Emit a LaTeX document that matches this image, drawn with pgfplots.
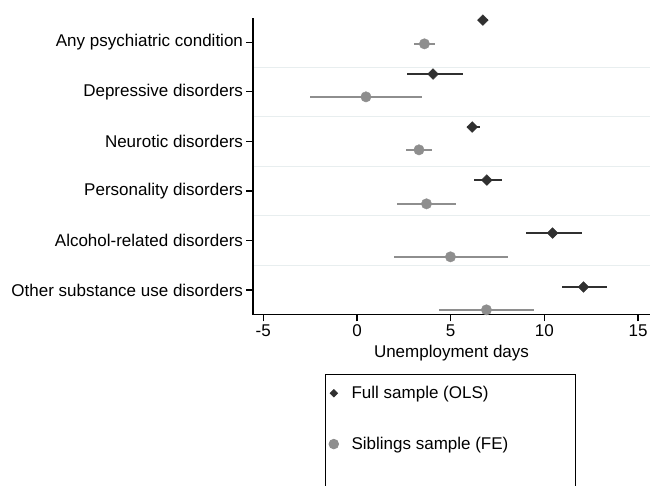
\documentclass[border=0pt]{standalone}
\usepackage{pgfplots}
\usepackage{pgfplotstable}
\pgfplotsset{compat=1.18}
\usepackage{fontspec}
\setmainfont{Liberation Sans}

\definecolor{olscol}{RGB}{48,48,48}
\definecolor{fecol}{RGB}{142,142,142}
\definecolor{sepcol}{RGB}{232,238,239}

% y: category position (Any psychiatric = 6 ... Other substance = 1)
\pgfplotstableread{
y     x      lo     hi
6.45  6.72   6.45   7.00
5.36  4.06   2.67   5.65
4.29  6.15   5.88   6.54
3.22  6.93   6.24   7.75
2.15  10.44  9.00   12.00
1.06  12.09  10.93  13.37
}\olsdata

\pgfplotstableread{
y     x      lo     hi
5.97  3.60   3.03   4.19
4.90  0.48   -2.53  3.49
3.83  3.31   2.62   4.01
2.74  3.71   2.14   5.26
1.67  4.99   1.99   8.04
0.60  6.91   4.40   9.44
}\fedata

\begin{document}
\begin{tikzpicture}[x=1pt,y=1pt]
\path[use as bounding box, clip] (0,0) rectangle (651,486);
\begin{axis}[
    at={(253pt,171.2pt)}, anchor=south west,
    scale only axis,
    width=397pt, height=297.2pt,
    xmin=-5.55, xmax=15.64,
    ymin=0.5, ymax=6.5,
    axis x line*=bottom, axis y line*=left,
    axis line style={line width=1.2pt, -},
    xtick={-5,0,5,10,15},
    ytick={1,2,3,4,5,6},
    yticklabels={Other substance use disorders, Alcohol-related disorders, Personality disorders, Neurotic disorders, Depressive disorders, Any psychiatric condition},
    minor ytick={1.5,2.5,3.5,4.5,5.5},
    yminorgrids,
    minor grid style={sepcol, line width=1.2pt},
    minor tick length=0pt,
    tick align=outside,
    major tick length=6.5pt,
    tick style={black, line width=1.2pt},
    /pgf/number format/assume math mode=true,
    tick label style={font=\fontsize{17}{20}\selectfont},
    label style={font=\fontsize{17}{20}\selectfont},
    xlabel={Unemployment days},
    xlabel style={yshift=-1.5pt},
    legend style={at={(0.181,-0.199)}, anchor=north west,
        draw=black, line width=0.8pt,
        inner xsep=0pt, inner ysep=10pt, row sep=33pt, column sep=11pt,
        font=\fontsize{17}{20}\selectfont},
    legend cell align=left,
]
\addplot[only marks, mark=square*, mark size=3.8pt,
    mark options={rotate=45, fill=olscol, draw=olscol},
    legend image post style={mark size=2.6pt},
    error bars/.cd, x dir=both, x explicit, error mark=none,
    error bar style={olscol, line width=1.5pt}]
    table[x=x, y=y,
      x error plus expr=\thisrow{hi}-\thisrow{x},
      x error minus expr=\thisrow{x}-\thisrow{lo}] {\olsdata};
\addlegendentry{\makebox[222pt][l]{Full sample (OLS)}}
\addplot[only marks, mark=*, mark size=5.2pt,
    mark options={fill=fecol, draw=fecol},
    legend image post style={mark size=4.8pt},
    error bars/.cd, x dir=both, x explicit, error mark=none,
    error bar style={fecol, line width=1.5pt}]
    table[x=x, y=y,
      x error plus expr=\thisrow{hi}-\thisrow{x},
      x error minus expr=\thisrow{x}-\thisrow{lo}] {\fedata};
\addlegendentry{\makebox[222pt][l]{Siblings sample (FE)}}
\addlegendimage{empty legend}
\addlegendentry{}
\end{axis}
\end{tikzpicture}
\end{document}
